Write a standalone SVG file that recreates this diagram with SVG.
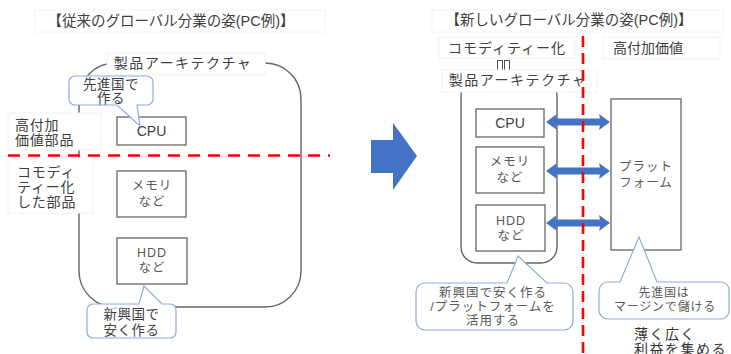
<svg xmlns="http://www.w3.org/2000/svg" width="731" height="354" viewBox="0 0 731 354">
<style>
text{font-family:"Liberation Sans","Noto Sans CJK JP",sans-serif;fill:#404040;text-anchor:middle;dominant-baseline:central}
.t{font-size:14px}
.c{font-size:13.5px;letter-spacing:0.5px}
.lb{font-size:14px;text-anchor:start;letter-spacing:0.8px}
.bx{fill:#fff;stroke:#666;stroke-width:1.3}
.in{font-size:12.5px;fill:#595959;letter-spacing:1px}
.cpu{font-size:14px;fill:#404040}
.co{fill:#fff;stroke:#8faadc;stroke-width:1.2}
.bg{fill:#fff;stroke:#f2f2f2;stroke-width:1}
.frame{fill:none;stroke:#666;stroke-width:1.4}
.red{stroke:#ff0000;stroke-width:2.6;fill:none}
.blue{fill:#4472c4}
.tofu{fill:none;stroke:#404040;stroke-width:0.9}
</style>
<g id="left-title"><rect class="bg" x="35" y="10" width="290" height="22"/><text class="t" x="171" y="21" style="font-size:14.5px">【従来のグローバル分業の姿(PC例)】</text></g>
<g id="left-frame"><rect class="frame" x="79" y="63" width="222" height="244" rx="36"/></g>
<g id="left-arch-label"><rect class="bg" x="107" y="53" width="158" height="22"/><text class="t" x="183" y="63" style="letter-spacing:1.5px">製品アーキテクチャ</text></g>
<g id="label-high"><rect class="bg" x="8" y="113" width="93" height="37"/><text class="lb" x="15" y="125">高付加</text><text class="lb" x="15" y="140">価値部品</text></g>
<g id="label-commodity"><rect class="bg" x="8" y="158" width="85" height="55"/><text class="lb" x="17" y="172">コモディ</text><text class="lb" x="17" y="187">ティー化</text><text class="lb" x="17" y="202">した部品</text></g>
<g id="left-cpu"><rect class="bx" x="117" y="117" width="69" height="28"/><text class="cpu" x="151.5" y="131">CPU</text></g>
<g id="left-mem"><rect class="bx" x="117" y="171" width="69" height="46"/><text class="in" x="152" y="186">メモリ</text><text class="in" x="152" y="202">など</text></g>
<g id="left-hdd"><rect class="bx" x="117" y="238" width="70" height="46"/><text class="in" x="152" y="253">HDD</text><text class="in" x="152" y="268">など</text></g>
<g id="callout-advanced-left"><path class="co" d="M75,76 H147 A6,6 0 0 1 153,82 V99 A6,6 0 0 1 147,105 H137 L140,126 L117,105 H75 A6,6 0 0 1 69,99 V82 A6,6 0 0 1 75,76 Z"/><text class="c" x="111" y="84">先進国で</text><text class="c" x="111" y="98.5">作る</text></g>
<g id="callout-emerging-left"><path class="co" d="M93,304 H139 L144,286 L162,304 H170 A6,6 0 0 1 176,310 V332 A6,6 0 0 1 170,338 H93 A6,6 0 0 1 87,332 V310 A6,6 0 0 1 93,304 Z"/><text class="c" x="131.5" y="314.5">新興国で</text><text class="c" x="131.5" y="330">安く作る</text></g>
<g id="big-arrow"><polygon class="blue" points="371,140 393,140 393,123 417,156 393,190 393,173 371,173"/></g>
<g id="right-title"><rect class="bg" x="432" y="10" width="291" height="22"/><text class="t" x="569" y="20" style="font-size:14.5px">【新しいグローバル分業の姿(PC例)】</text></g>
<g id="label-commoditize"><rect class="bg" x="439" y="37" width="136" height="21"/><text class="t" x="507" y="48" style="letter-spacing:1px">コモディティー化</text></g>
<g id="tofu"><rect class="tofu" x="497.5" y="60.5" width="5" height="10"/><rect class="tofu" x="504.5" y="60.5" width="5" height="10"/></g>
<g id="label-high-right"><rect class="bg" x="603" y="37" width="117" height="22"/><text class="t" x="648" y="48">高付加価値</text></g>
<g id="right-frame"><rect class="frame" x="461" y="80" width="96" height="183" rx="16"/></g>
<g id="right-arch-label"><rect class="bg" x="442" y="70" width="155" height="22"/><text class="t" x="518" y="80" style="letter-spacing:1.5px">製品アーキテクチャ</text></g>
<g id="right-cpu"><rect class="bx" x="476" y="109" width="68" height="28"/><text class="cpu" x="510" y="123">CPU</text></g>
<g id="right-mem"><rect class="bx" x="476" y="147" width="68" height="46"/><text class="in" x="510" y="162">メモリ</text><text class="in" x="510" y="178">など</text></g>
<g id="right-hdd"><rect class="bx" x="476" y="205" width="69" height="46"/><text class="in" x="511" y="221">HDD</text><text class="in" x="511" y="236">など</text></g>
<g id="platform"><rect class="bx" x="611" y="99" width="70" height="151"/><text class="in" x="646" y="167">プラット</text><text class="in" x="646" y="183">フォーム</text></g>
<g id="connectors">
<polygon class="blue" points="546,122 557,114 556,118.5 600,118.5 599,114 610,122 599,130 600,125.5 556,125.5 557,130"/>
<polygon class="blue" points="546,171 557,163 556,167.5 600,167.5 599,163 610,171 599,179 600,174.5 556,174.5 557,179"/>
<polygon class="blue" points="546,223 557,215 556,219.5 600,219.5 599,215 610,223 599,231 600,226.5 556,226.5 557,231"/>
</g>
<g id="divider-left"><line class="red" x1="8" y1="155.5" x2="330" y2="155.5" stroke-dasharray="12 8"/></g>
<g id="divider-right"><line class="red" x1="583" y1="36" x2="583" y2="354" stroke-dasharray="11 6"/></g>
<g id="callout-emerging-right"><path class="co" d="M425,283 H507 L518,256 L547,283 H564 A9,9 0 0 1 573,292 V321 A9,9 0 0 1 564,330 H425 A9,9 0 0 1 416,321 V292 A9,9 0 0 1 425,283 Z"/><text class="in" x="493" y="293">新興国で安く作る</text><text class="in" x="493" y="307">/プラットフォームを</text><text class="in" x="493" y="321">活用する</text></g>
<g id="callout-advanced-right"><path class="co" d="M608,282 H620 L639,237 L657,282 H721 A8,8 0 0 1 729,290 V311 A8,8 0 0 1 721,319 H608 A9,9 0 0 1 599,310 V291 A9,9 0 0 1 608,282 Z"/><text class="in" x="664" y="293" style="font-size:12px;letter-spacing:0.8px">先進国は</text><text class="in" x="665" y="307" style="font-size:12px;letter-spacing:0.8px">マージンで儲ける</text></g>
<g id="label-thin"><rect x="628" y="324" width="103" height="30" fill="#fff"/><text class="lb" x="634" y="334" style="font-size:14px;fill:#333;letter-spacing:1.5px">薄く広く</text><text class="lb" x="634" y="348.5" style="font-size:14px;fill:#333;letter-spacing:1.5px">利益を集める</text></g>
</svg>
